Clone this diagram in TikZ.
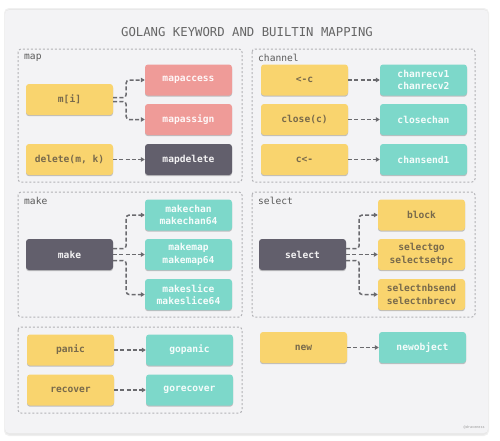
\documentclass[tikz,border=0pt]{standalone}
\usepackage{fontspec}
\setmonofont{DejaVu Sans Mono}
\usetikzlibrary{shadows,arrows.meta}
\definecolor{cardbg}{HTML}{F3F3F5}
\definecolor{yel}{HTML}{F9D46E}
\definecolor{yeltext}{HTML}{786A4C}
\definecolor{pinkc}{HTML}{EF9B98}
\definecolor{darkc}{HTML}{625F6C}
\definecolor{tealc}{HTML}{7DD8CA}
\definecolor{linec}{HTML}{6A6A6E}
\definecolor{grpc}{HTML}{B2B2B6}
\begin{document}
\begin{tikzpicture}[x=1pt,y=-1pt,
  box/.style={minimum width=87pt,minimum height=31pt,rounded corners=3pt,inner sep=1pt,
    align=center,font=\ttfamily\bfseries\fontsize{9.6}{12.5}\selectfont,
    drop shadow={shadow xshift=0pt,shadow yshift=-1.2pt,opacity=0.22,fill=black}},
  ybox/.style={box,fill=yel,text=yeltext},
  pbox/.style={box,fill=pinkc,text=white!92!pinkc},
  dbox/.style={box,fill=darkc,text=white!92!darkc},
  tbox/.style={box,fill=tealc,text=white!92!tealc},
  grp/.style={draw=grpc,line width=1pt,dash pattern=on 2pt off 2pt,rounded corners=3pt},
  glabel/.style={anchor=west,inner sep=0pt,text=black!65,font=\ttfamily\fontsize{9.6}{11}\selectfont},
  conn/.style={draw=linec,line width=1.5pt,dash pattern=on 4pt off 2.2pt,rounded corners=3pt,
    -{Triangle[length=4pt,width=4.5pt]}}
]
\useasboundingbox (0,0) rectangle (500,440);
\fill[white] (0,0) rectangle (500,440);
% card
\fill[black!6,rounded corners=5pt] (4,8) rectangle (489,436);
\fill[black!9,rounded corners=5pt] (5,9) rectangle (488,435);
\fill[cardbg,rounded corners=4pt] (5,10) rectangle (488,433);
\node[inner sep=0pt,text=black!60,font=\ttfamily\fontsize{12.3}{14}\selectfont] (title) at (247,32) {GOLANG KEYWORD AND BUILTIN MAPPING};
\node[inner sep=0pt,text=black!40,font=\ttfamily\fontsize{3.5}{4}\selectfont,anchor=east] (wm) at (485,427) {@draveness};

% group boxes
\draw[grp] (18,49) rectangle (242,182);
\draw[grp] (252,49) rectangle (475,182);
\draw[grp] (18,192) rectangle (242,317);
\draw[grp] (252,192) rectangle (475,317);
\draw[grp] (18,327) rectangle (242,413);
\node[glabel] (lmap) at (24,58) {map};
\node[glabel] (lchan) at (258,58) {channel};
\node[glabel] (lmake) at (24,201) {make};
\node[glabel] (lsel) at (258,201) {select};

% map
\node[ybox] (mi) at (69.5,99.5) {m[i]};
\node[pbox] (macc) at (188.5,80) {mapaccess};
\node[pbox] (masg) at (188.5,119.5) {mapassign};
\node[ybox] (del) at (69.5,159.5) {delete(m, k)};
\node[dbox] (mdel) at (188.5,159.5) {mapdelete};
\draw[conn] ([yshift=2pt]mi.east) -- ++(13,0) |- (macc.west);
\draw[conn] ([yshift=-2pt]mi.east) -- ++(13,0) |- (masg.west);
\draw[conn] (del) -- (mdel);

% channel
\node[ybox] (rc) at (304.5,80) {<-c};
\node[tbox] (crv) at (423.5,80) {chanrecv1\\chanrecv2};
\node[ybox] (cl) at (304.5,119.5) {close(c)};
\node[tbox] (clc) at (423.5,119.5) {closechan};
\node[ybox] (sc) at (304.5,159.5) {c<-};
\node[tbox] (cs) at (423.5,159.5) {chansend1};
\draw[conn] (rc) -- (crv);
\draw[conn] (cl) -- (clc);
\draw[conn] (sc) -- (cs);

% make
\node[dbox] (mk) at (69.5,254.5) {make};
\node[tbox] (mkc) at (188.5,215) {makechan\\makechan64};
\node[tbox] (mkm) at (188.5,254.5) {makemap\\makemap64};
\node[tbox] (mks) at (188.5,294.5) {makeslice\\makeslice64};
\draw[conn] ([yshift=6pt]mk.east) -- ++(13,0) |- (mkc.west);
\draw[conn] (mk) -- (mkm);
\draw[conn] ([yshift=-6pt]mk.east) -- ++(13,0) |- (mks.west);

% select
\node[dbox] (sel) at (302.5,254.5) {select};
\node[ybox] (blk) at (421.5,215) {block};
\node[ybox] (sgo) at (421.5,254.5) {selectgo\\selectsetpc};
\node[ybox] (snb) at (421.5,294.5) {selectnbsend\\selectnbrecv};
\draw[conn] ([yshift=6pt]sel.east) -- ++(13,0) |- (blk.west);
\draw[conn] (sel) -- (sgo);
\draw[conn] ([yshift=-6pt]sel.east) -- ++(13,0) |- (snb.west);

% panic / recover
\node[ybox] (pn) at (70.5,350) {panic};
\node[tbox] (gp) at (189.5,350) {gopanic};
\node[ybox] (rv) at (70.5,390) {recover};
\node[tbox] (gr) at (189.5,390) {gorecover};
\draw[conn] (pn) -- (gp);
\draw[conn] (rv) -- (gr);

% new
\node[ybox] (nw) at (303.5,347.5) {new};
\node[tbox] (no) at (422.5,347.5) {newobject};
\draw[conn] (nw) -- (no);
\end{tikzpicture}
\end{document}
